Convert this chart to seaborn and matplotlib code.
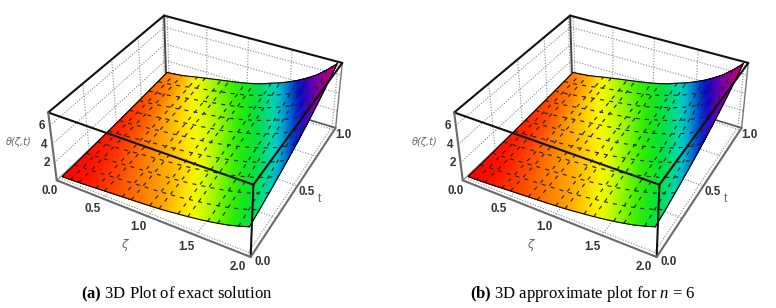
import numpy as np
import matplotlib
matplotlib.use("Agg")
import matplotlib.pyplot as plt
import seaborn as sns
from matplotlib.colors import LinearSegmentedColormap, Normalize
from mpl_toolkits.mplot3d import proj3d

sns.set_theme(style="white")
plt.rcParams.update({
    "font.family": "Liberation Sans",
    "mathtext.fontset": "custom",
    "mathtext.rm": "Liberation Serif",
    "mathtext.it": "Liberation Serif:italic",
    "mathtext.bf": "Liberation Serif:bold",
})

# ---------- values ----------
zeta = [0.0, 0.1, 0.2, 0.3, 0.4, 0.5, 0.6, 0.7, 0.8, 0.9, 1.0,
        1.1, 1.2, 1.3, 1.4, 1.5, 1.6, 1.7, 1.8, 1.9, 2.0]
time = [0.0, 0.1, 0.2, 0.3, 0.4, 0.5, 0.6, 0.7, 0.8, 0.9, 1.0]
theta_exact = [
    [0.30, 0.33, 0.37, 0.41, 0.45, 0.49, 0.55, 0.60, 0.67, 0.74, 0.82],
    [0.33, 0.36, 0.40, 0.45, 0.49, 0.54, 0.60, 0.66, 0.73, 0.81, 0.90],
    [0.37, 0.41, 0.45, 0.50, 0.55, 0.61, 0.67, 0.75, 0.82, 0.91, 1.01],
    [0.43, 0.48, 0.53, 0.58, 0.64, 0.71, 0.78, 0.87, 0.96, 1.06, 1.17],
    [0.50, 0.55, 0.61, 0.68, 0.75, 0.82, 0.91, 1.01, 1.11, 1.23, 1.36],
    [0.56, 0.62, 0.68, 0.76, 0.84, 0.92, 1.02, 1.13, 1.25, 1.38, 1.52],
    [0.62, 0.69, 0.76, 0.84, 0.93, 1.02, 1.13, 1.25, 1.38, 1.53, 1.69],
    [0.68, 0.75, 0.83, 0.92, 1.01, 1.12, 1.24, 1.37, 1.51, 1.67, 1.85],
    [0.74, 0.82, 0.90, 1.00, 1.10, 1.22, 1.35, 1.49, 1.65, 1.82, 2.01],
    [0.80, 0.88, 0.98, 1.08, 1.19, 1.32, 1.46, 1.61, 1.78, 1.97, 2.17],
    [0.87, 0.96, 1.06, 1.17, 1.30, 1.43, 1.59, 1.75, 1.94, 2.14, 2.36],
    [0.95, 1.05, 1.16, 1.28, 1.42, 1.57, 1.73, 1.91, 2.11, 2.34, 2.58],
    [1.05, 1.16, 1.28, 1.42, 1.57, 1.73, 1.91, 2.11, 2.34, 2.58, 2.85],
    [1.18, 1.30, 1.44, 1.59, 1.76, 1.95, 2.15, 2.38, 2.63, 2.90, 3.21],
    [1.30, 1.44, 1.59, 1.76, 1.94, 2.14, 2.37, 2.62, 2.89, 3.20, 3.53],
    [1.45, 1.60, 1.77, 1.96, 2.16, 2.39, 2.64, 2.92, 3.23, 3.57, 3.94],
    [1.62, 1.79, 1.98, 2.19, 2.42, 2.67, 2.95, 3.26, 3.61, 3.99, 4.40],
    [1.82, 2.01, 2.22, 2.46, 2.72, 3.00, 3.32, 3.67, 4.05, 4.48, 4.95],
    [2.05, 2.27, 2.50, 2.77, 3.06, 3.38, 3.74, 4.13, 4.56, 5.04, 5.57],
    [2.35, 2.60, 2.87, 3.17, 3.51, 3.88, 4.28, 4.73, 5.23, 5.78, 6.39],
    [2.70, 2.98, 3.30, 3.65, 4.03, 4.45, 4.92, 5.44, 6.01, 6.64, 7.34],
]
theta_approx = theta_exact  # the two panels read the same at this resolution
zeta_ticks = [0.0, 0.5, 1.0, 1.5, 2.0]
time_ticks = [0.0, 0.5, 1.0]
theta_ticks = [2, 4, 6]
captions = [r"$\mathbf{(a)}$ 3D Plot of exact solution",
            r"$\mathbf{(b)}$ 3D approximate plot for $n$ = 6"]

# ---------- view ----------
ZL, ZH = -0.04, 2.04
TL, TH = -0.02, 1.02
HL, HH = 0.0, 7.34
W, H = 776, 308
corners_world = [(ZL, TL, HL), (ZH, TL, HL), (ZH, TH, HL), (ZL, TH, HL),
                 (ZL, TL, HH), (ZH, TL, HH), (ZH, TH, HH), (ZL, TH, HH)]
corners_pixel = [(58, 182), (250, 257), (335, 130), (166, 73),
                 (47, 112), (254, 183), (343, 62), (164, 18)]


def camera_matrix():
    rows = []
    for (x, y, z), (u, v) in zip(corners_world, corners_pixel):
        p = [x, y, z, 1.0]
        rows.append(p + [0, 0, 0, 0] + [-u * c for c in p])
        rows.append([0, 0, 0, 0] + p + [-v * c for c in p])
    P = np.linalg.svd(np.array(rows))[2][-1].reshape(3, 4)
    P = P / (P[2] @ np.array([1.0, 0.5, 3.5, 1.0]))
    depth = P[2] - np.array([0, 0, 0, 1.0])
    return np.vstack([P[0], P[1], depth, P[2]])


M = camera_matrix()

nodes = [(0.30, "#ff0000"), (0.50, "#ff2a00"), (0.85, "#ff8a00"), (1.35, "#ffff00"),
         (2.10, "#2cee00"), (2.70, "#00e040"), (3.40, "#00d8d8"), (4.50, "#0000c8"),
         (5.40, "#7a00b4"), (7.34, "#d00060")]
rainbow = LinearSegmentedColormap.from_list(
    "rb", [((z - 0.30) / (7.34 - 0.30), c) for z, c in nodes])

GRID_KW = dict(color="#8a8a8a", lw=0.8, ls=(0, (1, 1.5)), zorder=1)
TICK_KW = dict(family="Liberation Sans", weight="bold", fontsize=8.4, color="#333333",
               ha="center", va="center", zorder=6)
LAB_KW = dict(color="#666666", ha="center", va="center", zorder=6)


def seg(ax, a, b, **kw):
    ax.plot([a[0], b[0]], [a[1], b[1]], [a[2], b[2]], **kw)


def label(ax, x, y, z, s, **kw):
    u, v, _ = proj3d.proj_transform(x, y, z, M)
    ax.text2D(float(u), float(v), s, transform=ax.transData, **kw)


def panel(rect, x_view, values):
    ax = fig.add_axes(rect, projection="3d", computed_zorder=False)
    ax.apply_aspect = lambda position=None: None
    ax.get_proj = lambda: M
    ax.set_proj_type("ortho")
    ax.set_axis_off()
    ax.set_xticks([])
    ax.set_yticks([])
    ax.set_zticks([])
    ax.patch.set_alpha(0)

    Z = np.array(zeta)
    T = np.array(time)
    V = np.array(values)
    XX, YY = np.meshgrid(Z, T, indexing="ij")

    # dotted grids: left wall, back wall and floor
    for h in theta_ticks:
        seg(ax, (ZL, TL, h), (ZL, TH, h), **GRID_KW)
        seg(ax, (ZL, TH, h), (ZH, TH, h), **GRID_KW)
    for t in [0.25, 0.5, 0.75, 1.0]:
        seg(ax, (ZL, t, HL), (ZL, t, HH), **GRID_KW)
    for t in [0.0, 0.25, 0.5, 0.75, 1.0]:
        seg(ax, (ZL, t, HL), (ZH, t, HL), **GRID_KW)
    for z in [0.0, 0.5, 1.0, 1.5, 2.0]:
        seg(ax, (z, TH, HL), (z, TH, HH), **GRID_KW)
    for z in [0.5, 1.0, 1.5, 2.0]:
        seg(ax, (z, TL, HL), (z, TH, HL), **GRID_KW)

    # back edges
    seg(ax, (ZL, TH, HL), (ZL, TH, HH), color="#444444", lw=1.4, zorder=1.5)
    seg(ax, (ZH, TH, HL), (ZH, TH, HH), color="#777777", lw=1.0, zorder=1.5)
    seg(ax, (ZL, TL, HL), (ZL, TH, HL), color="#999999", lw=1.0, zorder=1.5)
    seg(ax, (ZL, TH, HL), (ZH, TH, HL), color="#555555", lw=1.2, zorder=1.5)

    # surface: 3D facets with the library's Gouraud shading of the same vertices on top
    cell = (V[:-1, :-1] + V[1:, :-1] + V[:-1, 1:] + V[1:, 1:]) / 4.0
    norm = Normalize(0.30, 7.34)
    ax.plot_surface(XX, YY, V, facecolors=rainbow(norm(cell)), shade=False, linewidth=0,
                    antialiased=False, rstride=1, cstride=1, zorder=2)
    px, py, _ = proj3d.proj_transform(XX.ravel(), YY.ravel(), V.ravel(), M)
    mesh = ax.pcolormesh(np.reshape(px, V.shape), np.reshape(py, V.shape), V,
                         shading="gouraud", cmap=rainbow, norm=norm, zorder=2.1)
    mesh.do_3d_projection = lambda: 0.0

    # dashed mesh on the surface
    mesh_kw = dict(color="#1e2a18", lw=0.85, ls=(0, (3.4, 4.4)), zorder=3)
    for j in range(1, len(time) - 1):
        ax.plot(Z, T[j] * np.ones_like(Z), V[:, j], **mesh_kw)
    for i in range(1, len(zeta) - 1):
        if i % 3 != 0:
            ax.plot(Z[i] * np.ones_like(T), T, V[i, :], **mesh_kw)

    # surface outline
    line_kw = dict(color="black", lw=0.8, zorder=3.5)
    ax.plot(Z, T[0] * np.ones_like(Z), V[:, 0], **line_kw)
    ax.plot(Z, T[-1] * np.ones_like(Z), V[:, -1], **line_kw)
    ax.plot(Z[0] * np.ones_like(T), T, V[0, :], **line_kw)
    ax.plot(Z[-1] * np.ones_like(T), T, V[-1, :], **line_kw)

    # front box edges
    black = dict(color="#111111", lw=1.5, zorder=4)
    for a, b in [((ZL, TL, HH), (ZH, TL, HH)), ((ZH, TL, HH), (ZH, TH, HH)),
                 ((ZH, TH, HH), (ZL, TH, HH)), ((ZL, TH, HH), (ZL, TL, HH)),
                 ((ZH, TL, HL), (ZH, TL, HH))]:
        seg(ax, a, b, **black)
    grey = dict(color="#6a6a6a", lw=1.5, zorder=4)
    for a, b in [((ZL, TL, HL), (ZH, TL, HL)), ((ZH, TL, HL), (ZH, TH, HL)),
                 ((ZL, TL, HL), (ZL, TL, HH))]:
        seg(ax, a, b, **grey)

    # tick labels and axis names
    for z in zeta_ticks:
        label(ax, z - 0.005, TL - 0.08, HL, f"{z:.1f}", **TICK_KW)
    for t in time_ticks:
        label(ax, ZH + 0.11, t - 0.02, HL, f"{t:.1f}", **TICK_KW)
    for h in theta_ticks:
        label(ax, ZL - 0.065, TL - 0.02, h, f"{h}", **TICK_KW)
    label(ax, 1.01, TL - 0.2, HL, "ζ", family="DejaVu Sans", style="italic",
          fontsize=8.5, **LAB_KW)
    label(ax, ZH + 0.254, 0.464, HL, "t", family="Liberation Sans", fontsize=8.5, **LAB_KW)
    label(ax, ZL - 0.28, TL - 0.07, 4.2, "θ(ζ,t)", family="DejaVu Sans", style="italic",
          fontsize=7, **LAB_KW)
    ax.viewLim.intervalx = x_view
    ax.viewLim.intervaly = (H, 0)
    return ax


fig = plt.figure(figsize=(W / 100, H / 100), dpi=100, facecolor="white")
panel([0, 0, 0.5, 1], (0, 388), theta_exact)
panel([0.5, 0, 0.5, 1], (-18, 370), theta_approx)
fig.text(177 / W, 1 - 294 / H, captions[0], ha="center", va="center", fontsize=12,
         family="Liberation Serif", color="black")
fig.text(583 / W, 1 - 294 / H, captions[1], ha="center", va="center", fontsize=12,
         family="Liberation Serif", color="black")
fig.savefig("out.png", dpi=100)
